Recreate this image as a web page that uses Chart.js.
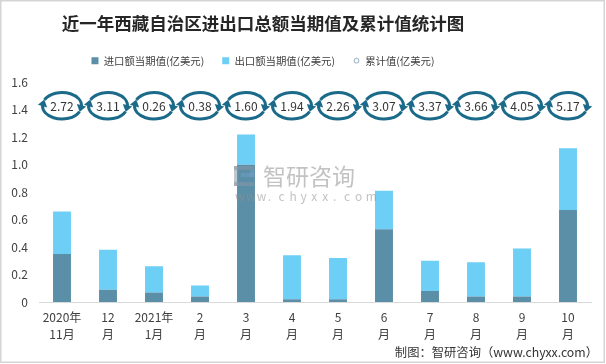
<!DOCTYPE html>
<html>
<head>
<meta charset="utf-8">
<script src="https://cdn.jsdelivr.net/npm/chart.js@4.4.0/dist/chart.umd.min.js"></script>
<style>
  html, body { margin: 0; padding: 0; background: #ffffff; }
  #wrap { width: 606px; height: 364px; position: relative; }
</style>
</head>
<body>
<div id="wrap"><canvas id="c" width="606" height="364"></canvas></div>
<script>
// ---- data ----
const categories = [["2020年","11月"],["12","月"],["2021年","1月"],["2","月"],["3","月"],["4","月"],["5","月"],["6","月"],["7","月"],["8","月"],["9","月"],["10","月"]];
const importValues = [0.35, 0.09, 0.07, 0.04, 1.00, 0.02, 0.02, 0.53, 0.08, 0.04, 0.04, 0.67];
const exportValues = [0.31, 0.29, 0.19, 0.08, 0.22, 0.32, 0.30, 0.28, 0.22, 0.25, 0.35, 0.45];
const cumulativeValues = [2.72, 3.11, 0.26, 0.38, 1.60, 1.94, 2.26, 3.07, 3.37, 3.66, 4.05, 5.17];
const yTicks = [0, 0.2, 0.4, 0.6, 0.8, 1, 1.2, 1.4, 1.6];
const seriesNames = ["进口额当期值(亿美元)", "出口额当期值(亿美元)", "累计值(亿美元)"];
const titleText = "近一年西藏自治区进出口总额当期值及累计值统计图";
const footerText = "制图：智研咨询（www.chyxx.com）";

// ---- style ----
const FONT = "'Noto Sans CJK SC', 'Microsoft YaHei', sans-serif";
const C_IMPORT = "#5b8fa8";
const C_EXPORT = "#6dcff6";
const C_CYCLE = "#1b6a89";
const TEXT = "#404040";
const ICON_LEVEL = 1.43;   // vertical placement of the cumulative badges on the left axis
const HEADER_CX = 263;     // horizontal centre of title & legend

Chart.defaults.font.family = FONT;
Chart.defaults.color = TEXT;

// small hollow circle for legend marker
const circleMarker = document.createElement('canvas');
circleMarker.width = 7; circleMarker.height = 7;
(function(){
  const g = circleMarker.getContext('2d');
  g.strokeStyle = '#8fa9ba'; g.lineWidth = 1;
  g.beginPath(); g.arc(3.5, 3.5, 2.4, 0, Math.PI*2); g.stroke();
})();

function ellPt(cx, cy, rx, ry, a) { return {x: cx + rx*Math.cos(a), y: cy + ry*Math.sin(a)}; }
function drawArrowArc(ctx, cx, cy, rx, ry, a0, a1) {
  ctx.beginPath(); ctx.ellipse(cx, cy, rx, ry, 0, a0, a1); ctx.stroke();
  const B = ellPt(cx, cy, rx, ry, a1 - 0.05);
  const T = ellPt(cx, cy, rx, ry, a1 + 0.38);
  let dx = T.x - B.x, dy = T.y - B.y; const L = Math.hypot(dx, dy); dx/=L; dy/=L;
  const nx = -dy, ny = dx, w = 4.8;
  ctx.beginPath();
  ctx.moveTo(T.x + dx*1.0, T.y + dy*1.0);
  ctx.lineTo(B.x + nx*w, B.y + ny*w);
  ctx.lineTo(B.x - nx*w, B.y - ny*w);
  ctx.closePath(); ctx.fill();
}

const decorPlugin = {
  id: 'decor',
  afterLayout(chart) {
    // centre title and legend on the reference header axis
    if (chart.titleBlock) { chart.titleBlock.left = 0; chart.titleBlock.right = HEADER_CX*2; }
    if (chart.legend) { chart.legend.left = 0; chart.legend.right = HEADER_CX*2; }
  },
  beforeDraw(chart) {
    const ctx = chart.ctx;
    ctx.save();
    ctx.fillStyle = '#ffffff'; ctx.fillRect(0, 0, chart.width, chart.height);
    ctx.restore();
  },
  afterDatasetsDraw(chart) {
    const ctx = chart.ctx, xs = chart.scales.x, ys = chart.scales.y;
    // watermark
    ctx.save();
    ctx.globalAlpha = 0.55;
    ctx.fillStyle = '#8a98a6';
    ctx.fillRect(234, 166, 20, 4);
    ctx.fillRect(234, 166, 4, 20);
    ctx.fillRect(234, 182, 20, 4);
    ctx.fillStyle = '#6f9fc4';
    ctx.fillRect(241, 173, 13, 4);
    ctx.fillRect(250, 170, 4, 7);
    ctx.fillStyle = '#909090';
    ctx.font = "23px " + FONT;
    ctx.textBaseline = 'middle'; ctx.textAlign = 'left';
    ctx.fillText("智研咨询", 263, 176);
    ctx.font = "12px " + FONT;
    const w = "www.chyxx.com".split('');
    w.forEach((ch, i) => { ctx.fillText(ch, 235 + i*10.9, 196); });
    ctx.restore();

    // cumulative badges
    const meta = chart.getDatasetMeta(2);
    if (meta.hidden) return;
    const y = ys.getPixelForValue(ICON_LEVEL);
    ctx.save();
    ctx.lineWidth = 3;
    ctx.lineCap = 'butt';
    chart.data.datasets[2].data.forEach((v, i) => {
      const x = xs.getPixelForValue(i);
      const rx = 19.5, ry = 13.3;
      ctx.strokeStyle = C_CYCLE; ctx.fillStyle = C_CYCLE;
      drawArrowArc(ctx, x, y, rx, ry, Math.PI + 0.45, 2*Math.PI + 0.02);
      drawArrowArc(ctx, x, y, rx, ry, 0.45, Math.PI + 0.02);
      ctx.fillStyle = '#333333';
      ctx.font = "12px " + FONT;
      ctx.textAlign = 'center'; ctx.textBaseline = 'middle';
      ctx.fillText(v.toFixed(2), x, y + 0.5);
    });
    ctx.restore();
  },
  afterDraw(chart) {
    const ctx = chart.ctx;
    ctx.save();
    ctx.fillStyle = '#333333';
    ctx.font = "12.3px " + FONT;
    ctx.textAlign = 'right'; ctx.textBaseline = 'middle';
    ctx.fillText(footerText, 598, 352);
    ctx.strokeStyle = '#d4d4d4'; ctx.lineWidth = 1.5;
    ctx.strokeRect(0.75, 0.75, 603.5, 361.5);
    ctx.restore();
  }
};

new Chart(document.getElementById('c'), {
  data: {
    labels: categories,
    datasets: [
      { type: 'bar', label: seriesNames[0], data: importValues, backgroundColor: C_IMPORT, stack: 's', barPercentage: 0.39, categoryPercentage: 1.0, order: 2 },
      { type: 'bar', label: seriesNames[1], data: exportValues, backgroundColor: C_EXPORT, stack: 's', barPercentage: 0.39, categoryPercentage: 1.0, order: 2 },
      { type: 'line', label: seriesNames[2], data: cumulativeValues, yAxisID: 'y2', showLine: false, pointRadius: 0, borderColor: C_CYCLE, backgroundColor: '#fff', order: 1 }
    ]
  },
  options: {
    responsive: false,
    animation: false,
    layout: { padding: { left: 0, right: 15, top: 0, bottom: 0 } },
    plugins: {
      tooltip: { enabled: false },
      title: {
        display: true, text: titleText, color: '#262626',
        font: { size: 17.5, weight: 'bold', family: FONT, lineHeight: 1.2 },
        padding: { top: 12.5, bottom: 4 }
      },
      subtitle: {
        display: true, text: '', weight: 500,
        font: { size: 6.5, lineHeight: 1 }, padding: 0
      },
      legend: {
        display: true, position: 'top', align: 'center',
        labels: {
          usePointStyle: true, boxWidth: 7, boxHeight: 7, padding: 18,
          font: { size: 10.4, family: FONT }, color: TEXT,
          generateLabels(chart) {
            return chart.data.datasets.map((ds, i) => ({
              text: ds.label,
              fillStyle: i === 2 ? '#fff' : ds.backgroundColor,
              strokeStyle: i === 2 ? '#8fa9ba' : ds.backgroundColor,
              lineWidth: 0,
              pointStyle: i === 2 ? circleMarker : 'rect',
              hidden: !chart.isDatasetVisible(i),
              datasetIndex: i,
              fontColor: TEXT
            }));
          }
        }
      }
    },
    scales: {
      x: {
        stacked: true,
        grid: { display: false, drawTicks: false },
        border: { display: true, color: '#d9d9d9', width: 1 },
        ticks: { color: TEXT, font: { size: 12, lineHeight: 1.4 }, padding: 7, maxRotation: 0, autoSkip: false },
        afterFit(s) { s.height = 62; }
      },
      y: {
        stacked: true, min: 0, max: 1.6,
        grid: { display: false, drawTicks: false },
        border: { display: false },
        afterBuildTicks(s) { s.ticks = yTicks.map(v => ({ value: v })); },
        ticks: { color: TEXT, font: { size: 12 }, padding: 11 },
        afterFit(s) { s.width = 39; }
      },
      y2: { display: false, min: 0, max: 6 }
    }
  },
  plugins: [decorPlugin]
});
</script>
</body>
</html>
